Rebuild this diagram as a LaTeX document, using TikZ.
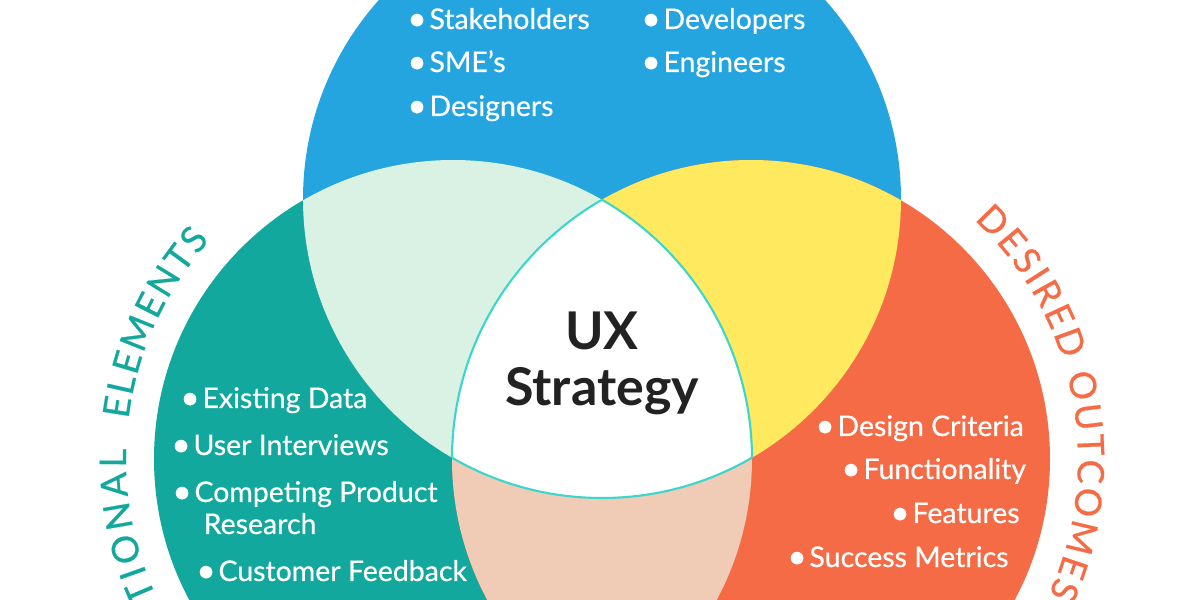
\documentclass[tikz,border=0pt]{standalone}
\usepackage{fontspec}
\setmainfont{Lato}
\newfontfamily\heavyfont[FakeBold=0.5]{Lato}
\usetikzlibrary{decorations.text}
\definecolor{topblue}{HTML}{25A5E0}
\definecolor{leftteal}{HTML}{12A89D}
\definecolor{rightorange}{HTML}{F46B45}
\definecolor{paleGreen}{HTML}{DAF2E4}
\definecolor{sunYellow}{HTML}{FEE95F}
\definecolor{palePeach}{HTML}{F0CBB5}
\definecolor{rimCyan}{HTML}{3DD6CC}
\definecolor{inkDark}{HTML}{222222}
\newcommand{\bul}{\makebox[5.35pt][l]{\hspace*{-0.95pt}\fontsize{9.5}{10}\selectfont\raisebox{-0.3pt}{\textbullet}}}
\newcommand{\topdisc}{(6.02,4.01) circle (2.99)}
\newcommand{\leftdisc}{(4.53,1.41) circle (2.99)}
\newcommand{\rightdisc}{(7.51,1.41) circle (2.99)}
\begin{document}
\begin{tikzpicture}[item/.style={anchor=base west, inner sep=0pt, text=white, font=\heavyfont\fontsize{8.1}{10}\selectfont},
        hub/.style={anchor=base, inner sep=0pt, text=inkDark, font=\fontsize{14.8}{16}\selectfont\bfseries},
        rim/.style={draw=rimCyan, line width=0.6pt}]
        \useasboundingbox (0, 0) rectangle (12, 6);
        \clip (0, 0) rectangle (12, 6);

        \fill[topblue] \topdisc;
        \fill[leftteal] \leftdisc;
        \fill[rightorange] \rightdisc;

        % overlaps
        \begin{scope}
            \clip \topdisc;
            \fill[paleGreen] \leftdisc;
        \end{scope}
        \begin{scope}
            \clip \topdisc;
            \fill[sunYellow] \rightdisc;
        \end{scope}
        \begin{scope}
            \clip \leftdisc;
            \fill[palePeach] \rightdisc;
        \end{scope}
        \begin{scope}
            \clip \topdisc;
            \clip \leftdisc;
            \fill[white] \rightdisc;
        \end{scope}

        % rim of the centre
        \begin{scope}
            \clip \leftdisc;
            \clip \rightdisc;
            \draw[rim] \topdisc;
        \end{scope}
        \begin{scope}
            \clip \topdisc;
            \clip \rightdisc;
            \draw[rim] \leftdisc;
        \end{scope}
        \begin{scope}
            \clip \topdisc;
            \clip \leftdisc;
            \draw[rim] \rightdisc;
        \end{scope}

        \node[hub] (ux) at (6.02, 2.50) {UX};
        \node[hub] (strategy) at (6.02, 1.95) {Strategy};

        \node[item] (stakeholders) at (4.10, 5.71) {\bul Stakeholders};
        \node[item] (smes) at (4.10, 5.28) {\bul SME’s};
        \node[item] (designers) at (4.10, 4.84) {\bul Designers};
        \node[item] (developers) at (6.44, 5.71) {\bul Developers};
        \node[item] (engineers) at (6.44, 5.28) {\bul Engineers};

        \node[item] (data) at (1.83, 1.92) {\bul Existing Data};
        \node[item] (interviews) at (1.74, 1.45) {\bul User Interviews};
        \node[item] (competing) at (1.75, 0.98) {\bul Competing Product};
        \node[item] (research) at (2.03, 0.66) {Research};
        \node[item] (feedback) at (1.99, 0.19) {\bul Customer Feedback};

        \node[item] (criteria) at (8.18, 1.64) {\bul Design Criteria};
        \node[item] (functionality) at (8.44, 1.21) {\bul Functionality};
        \node[item] (features) at (8.93, 0.77) {\bul Features};
        \node[item] (metrics) at (7.90, 0.33) {\bul Success Metrics};

        % lettering round the discs
        \path[decorate, decoration={text along path, text align={fit to path},
            text={|\heavyfont\fontsize{10.4}{12}\selectfont\color{leftteal}|TIONAL}}]
            (4.53, 1.41) ++(205:3.27) arc (205:178.2:3.27);
        \path[decorate, decoration={text along path, text align={fit to path},
            text={|\heavyfont\fontsize{10.4}{12}\selectfont\color{leftteal}|ELEMENTS}}]
            (4.53, 1.41) ++(173:3.27) arc (173:138:3.27);
        \path[decorate, decoration={text along path, text align={fit to path},
            text={|\heavyfont\fontsize{10.4}{12}\selectfont\color{rightorange}|DESIRED OUTCOMES}}]
            (7.51, 1.41) ++(47:3.27) arc (47:-24.5:3.27);
    \end{tikzpicture}
\end{document}
